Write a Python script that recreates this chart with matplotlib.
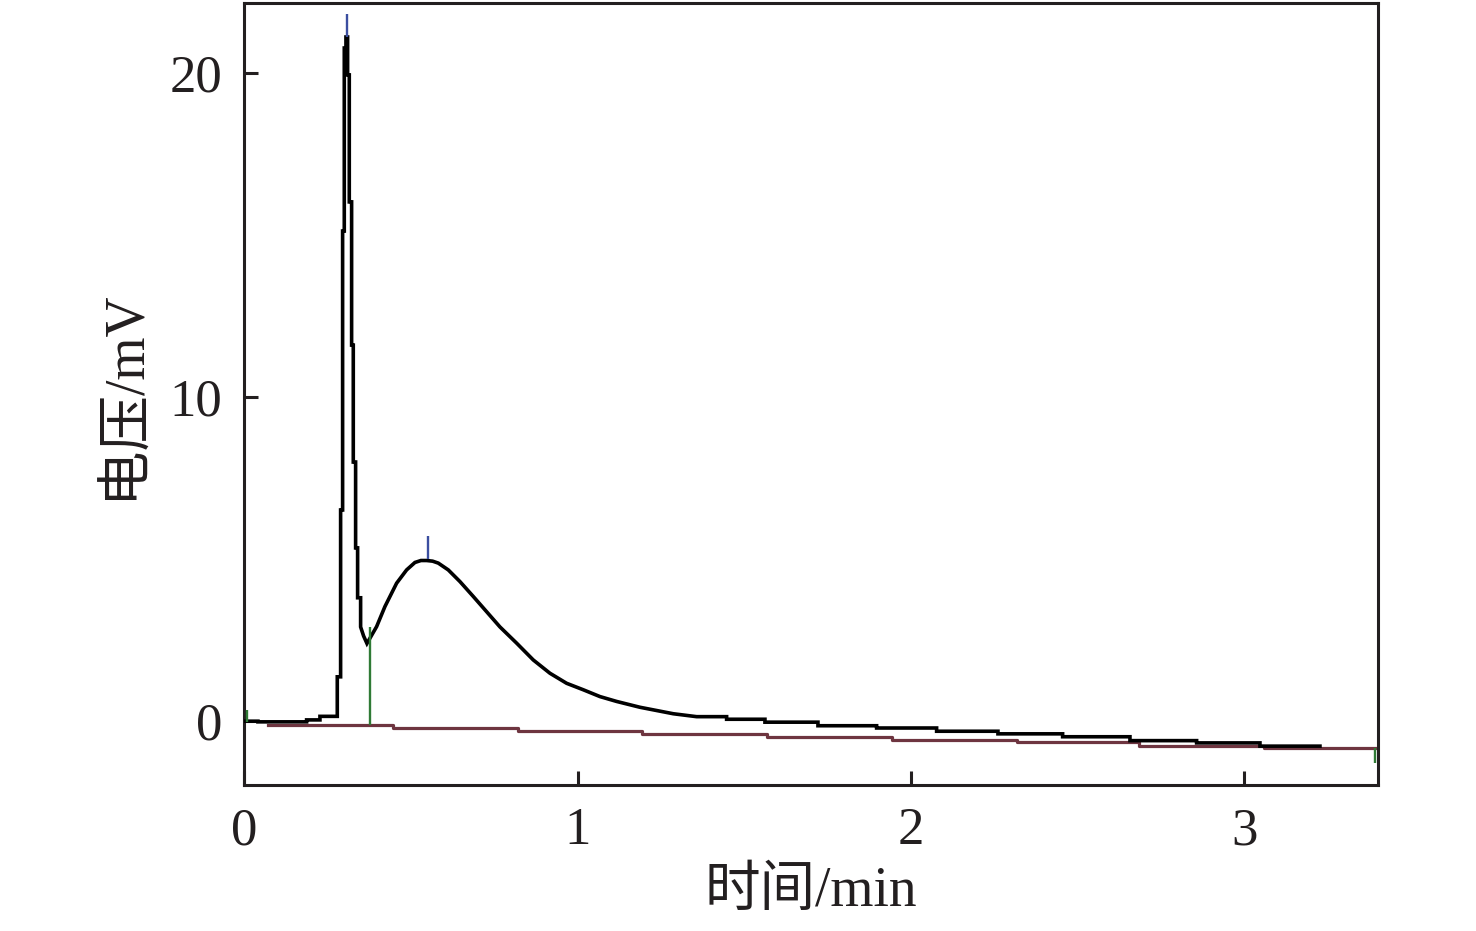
import matplotlib
matplotlib.use("Agg")
import matplotlib.pyplot as plt

# ---- data ----
# detector trace vertices: time in min, voltage in mV (repeated times = vertical steps)
sig_t = [0.000, 0.041, 0.041, 0.187, 0.187, 0.227, 0.227, 0.279, 0.279, 0.289,
         0.289, 0.295, 0.295, 0.300, 0.300, 0.305, 0.305, 0.310, 0.310, 0.315,
         0.315, 0.322, 0.322, 0.327, 0.327, 0.334, 0.334, 0.340, 0.340, 0.349,
         0.349, 0.358, 0.368, 0.397, 0.422, 0.457, 0.487, 0.512, 0.530, 0.547,
         0.565, 0.582, 0.612, 0.647, 0.687, 0.727, 0.767, 0.817, 0.867, 0.917,
         0.967, 1.017, 1.067, 1.117, 1.187, 1.237, 1.287, 1.357,
         1.447, 1.447, 1.562, 1.562, 1.721, 1.721, 1.897, 1.897, 2.077, 2.077,
         2.261, 2.261, 2.455, 2.455, 2.657, 2.657, 2.857, 2.857, 3.047, 3.047,
         3.227]
sig_v = [0.00, 0.00, -0.02, -0.02, 0.04, 0.04, 0.15, 0.15, 1.37, 1.37,
         6.52, 6.52, 15.13, 15.13, 20.78, 20.78, 21.12, 21.12, 19.95, 19.95,
         16.03, 16.03, 11.61, 11.61, 8.00, 8.00, 5.35, 5.35, 3.81, 3.81,
         2.91, 2.63, 2.40, 2.92, 3.54, 4.26, 4.67, 4.90, 4.96, 4.96,
         4.94, 4.88, 4.67, 4.31, 3.85, 3.38, 2.91, 2.41, 1.89, 1.48,
         1.17, 0.97, 0.76, 0.61, 0.43, 0.33, 0.23, 0.14,
         0.14, 0.06, 0.06, -0.03, -0.03, -0.14, -0.14, -0.21, -0.21, -0.31,
         -0.31, -0.39, -0.39, -0.48, -0.48, -0.60, -0.60, -0.67, -0.67, -0.77,
         -0.77]

# integration baseline (steps-post)
base_t = [0.071, 0.446, 0.821, 1.193, 1.568, 1.943, 2.318, 2.684, 3.059, 3.40]
base_v = [-0.11, -0.21, -0.31, -0.39, -0.48, -0.58, -0.65, -0.76, -0.82, -0.82]

# peak apex markers (blue): time, bottom, top
apex_t = [0.308, 0.551]
apex_lo = [21.12, 5.00]
apex_hi = [21.83, 5.72]

# peak boundary markers (green): time, bottom, top
bound_t = [0.007, 0.376, 3.393]
bound_lo = [-0.02, -0.11, -1.29]
bound_hi = [0.35, 2.91, -0.82]

x_ticks = [0, 1, 2, 3]
y_ticks = [0, 10, 20]
x_label = "时间/min"
y_label = "电压/mV"

# ---- figure ----
plt.rcParams['font.family'] = ['Liberation Serif', 'Noto Sans CJK SC', 'DejaVu Sans']
fig = plt.figure(figsize=(14.76, 9.31), dpi=100)
ax = fig.add_axes([0.1655, 0.1568, 0.9338 - 0.1655, 0.9968 - 0.1568])

ax.plot(base_t, base_v, drawstyle='steps-post', color='#6e3540', lw=2.3, zorder=2)
ax.plot(sig_t, sig_v, color='black', lw=2.6, zorder=3, solid_joinstyle='miter')
ax.vlines(apex_t, apex_lo, apex_hi, color='#3b4ea0', lw=1.7, zorder=4)
ax.vlines(bound_t, bound_lo, bound_hi, color='#2f7a35', lw=1.7, zorder=4)

ax.set_xlim(0, 3.402)
ax.set_ylim(-1.97, 22.17)
ax.set_xticks(x_ticks)
ax.set_yticks(y_ticks)
ax.set_xticklabels([str(v) for v in x_ticks])
ax.set_yticklabels([str(v) for v in y_ticks])

for s in ax.spines.values():
    s.set_linewidth(2.2)
    s.set_color('#231f20')
ax.tick_params(direction='in', length=10, width=2.2, pad=16, labelsize=38,
               colors='#231f20', labelcolor='#231f20')

ax.set_xlabel(x_label, fontsize=40, va='center', color='#231f20')
ax.xaxis.set_label_coords(0.5, (785 - 892) / 782)
ax.set_ylabel(y_label, fontsize=40, va='center', color='#231f20')
ax.yaxis.set_label_coords((125 - 244.3) / 1134, 0.5)

fig.savefig("out.png", dpi=100)
